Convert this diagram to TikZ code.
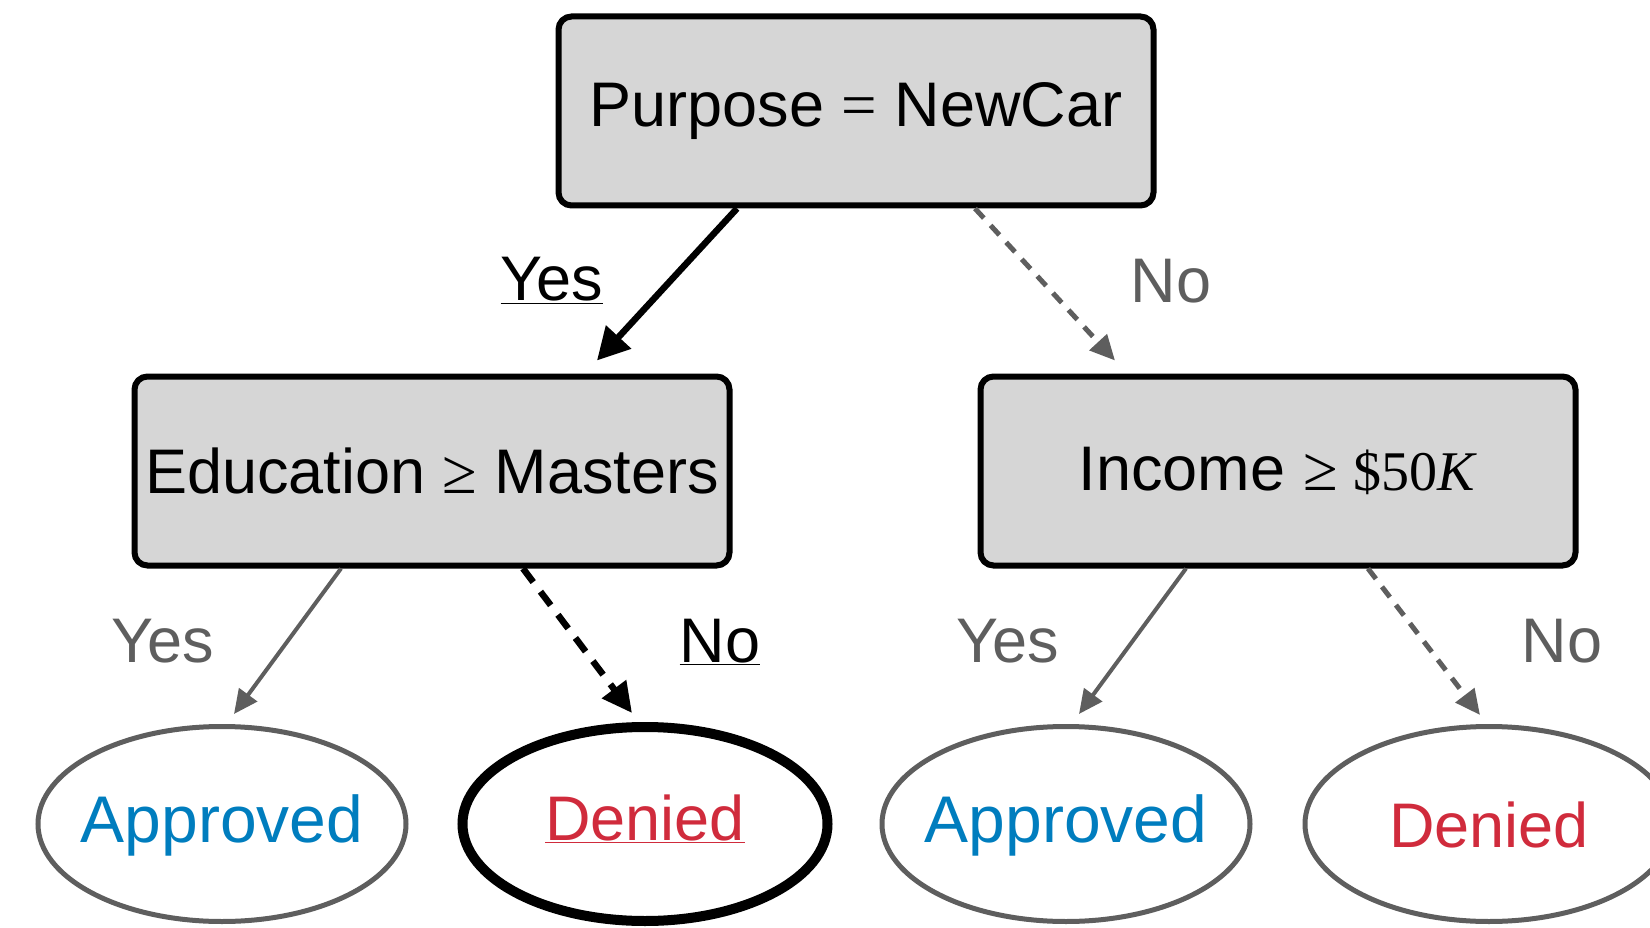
\documentclass[tikz,border=0pt]{standalone}
\usepackage{fontspec}
\setmainfont{Liberation Sans}
\newfontfamily\serifnum{Liberation Serif}
\usetikzlibrary{arrows.meta,shapes.geometric}
\definecolor{boxgray}{HTML}{D6D6D6}
\definecolor{edgegray}{HTML}{5E5E5E}
\definecolor{apblue}{HTML}{007DBE}
\definecolor{dnred}{HTML}{D02B3C}
\begin{document}
\begin{tikzpicture}[x=1pt,y=-1pt,
  every node/.style={font=\fontsize{63}{70}\selectfont},
  decbox/.style={draw=black, line width=6pt, fill=boxgray, rounded corners=13pt,
    minimum width=595pt, minimum height=189pt, inner sep=0pt},
  leaf/.style={ellipse, draw=edgegray, line width=5pt, minimum width=368pt,
    minimum height=195pt, inner sep=0pt},
  leafbold/.style={ellipse, draw=black, line width=10pt, minimum width=365pt,
    minimum height=194pt, inner sep=0pt},
  aptext/.style={text=apblue, inner sep=0pt, font=\fontsize{66}{70}\selectfont},
  dntext/.style={text=dnred, inner sep=0pt},
  elab/.style={anchor=base, inner sep=0pt},
  glab/.style={elab, text=edgegray},
  yesbold/.style={draw=black, line width=6.5pt, -{Triangle[length=32pt,width=33pt]}},
  nobold/.style={draw=black, line width=6.5pt, dash pattern=on 17pt off 12pt,
    -{Triangle[length=30pt,width=29pt]}},
  graysolid/.style={draw=edgegray, line width=4pt, -{Triangle[length=24pt,width=22pt]}},
  graydash/.style={draw=edgegray, line width=5pt, dash pattern=on 13pt off 10pt,
    -{Triangle[length=25pt,width=23pt]}}
]
\useasboundingbox (0,0) rectangle (1650,928);
\clip (0,0) rectangle (1650,928);

% decision boxes
\node[decbox] (root) at (856,111) {Purpose {\serifnum =} NewCar};
\node[decbox] (edu) at (432,471) {Education {\serifnum ≥} Masters};
\node[decbox] (inc) at (1278,471) {Income {\serifnum ≥ {\fontsize{56}{60}\selectfont\$50\textit{K}}}};

% leaves
\node[leaf, label={[aptext,yshift=-1pt]center:Approved}] (ap1) at (222,824) {};
\node[leafbold, label={[dntext,yshift=5pt]center:\underline{Denied}}] (dn1) at (645,824) {};
\node[leaf, label={[aptext,yshift=-1pt]center:Approved}] (ap2) at (1066,824) {};
\node[leaf, label={[dntext,yshift=-1pt]center:Denied}] (dn2) at (1489,824) {};

% connectors
\draw[yesbold] ([xshift=-119pt]root.south) -- ([xshift=165pt,yshift=13pt]edu.north);
\draw[graydash] ([xshift=119pt]root.south) -- ([xshift=-163pt,yshift=13pt]inc.north);
\draw[graysolid] ([xshift=-91pt]edu.south) -- ([xshift=12pt,yshift=10pt]ap1.north);
\draw[nobold] ([xshift=91pt]edu.south) -- ([xshift=-13pt,yshift=9pt]dn1.north);
\draw[graysolid] ([xshift=-92pt]inc.south) -- ([xshift=13pt,yshift=10pt]ap2.north);
\draw[graydash] ([xshift=90pt]inc.south) -- ([xshift=-9pt,yshift=9pt]dn2.north);

% edge labels
\node[elab] (l1) at (552,301) {\underline{Yes}};
\node[glab] (l2) at (1171,302) {No};
\node[glab] (l3) at (163,662) {Yes};
\node[elab] (l4) at (720,662) {\underline{No}};
\node[glab] (l5) at (1008,662) {Yes};
\node[glab] (l6) at (1562,662) {No};
\end{tikzpicture}
\end{document}
